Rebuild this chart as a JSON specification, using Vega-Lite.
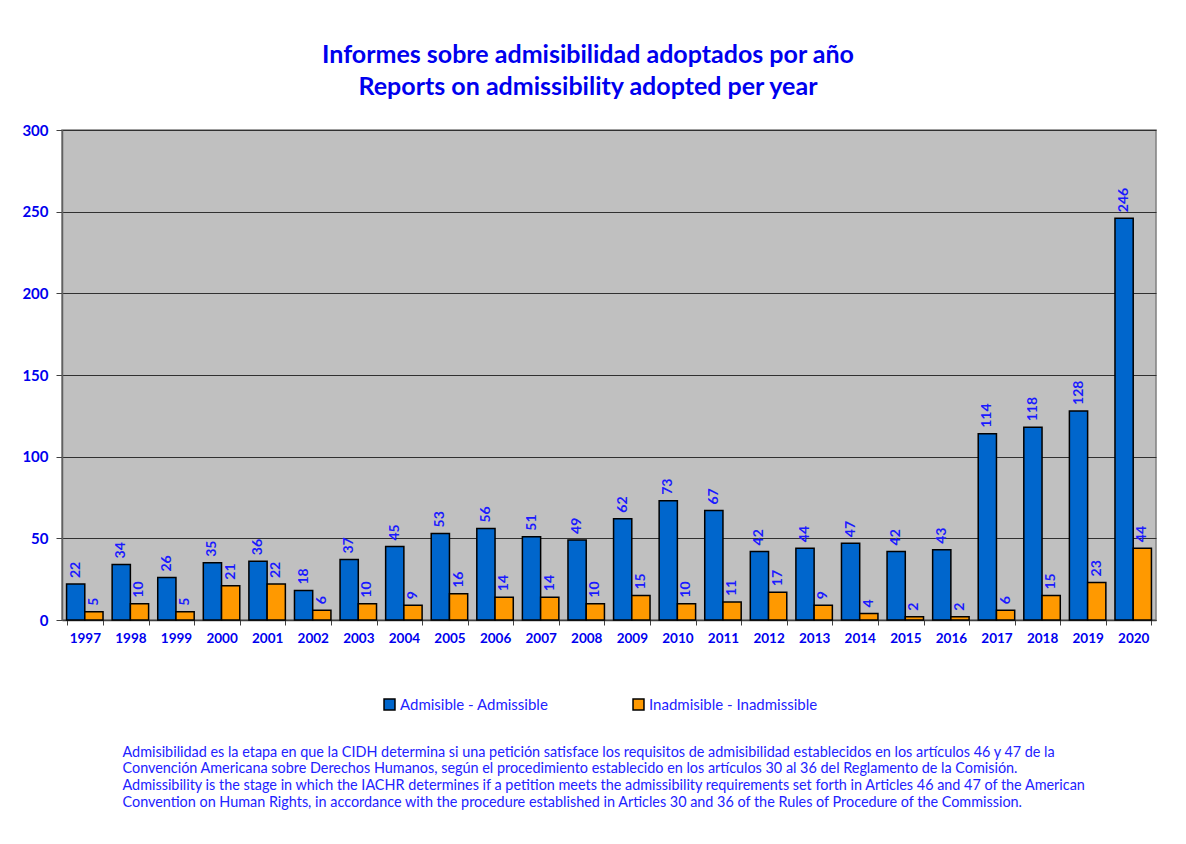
{
  "$schema": "https://vega.github.io/schema/vega-lite/v6.json",
  "width": 1094,
  "height": 490,
  "autosize": {"type": "none"},
  "padding": {"left": 62, "top": 130, "right": 30, "bottom": 224},
  "background": "white",
  "title": {
    "text": ["Informes sobre admisibilidad adoptados por año", "Reports on admissibility adopted per year"],
    "font": "Lato",
    "fontSize": 25,
    "fontWeight": "bold",
    "color": "#0000EE",
    "lineHeight": 32,
    "anchor": "middle",
    "frame": "group",
    "dx": -21,
    "offset": 23
  },
  "config": {
    "font": "Lato",
    "view": {"fill": "#C0C0C0", "stroke": "#808080", "strokeWidth": 1.5}
  },
  "data": {
    "values": [
      {"year": "1997", "series": "Admisible - Admissible", "value": 22},
      {"year": "1998", "series": "Admisible - Admissible", "value": 34},
      {"year": "1999", "series": "Admisible - Admissible", "value": 26},
      {"year": "2000", "series": "Admisible - Admissible", "value": 35},
      {"year": "2001", "series": "Admisible - Admissible", "value": 36},
      {"year": "2002", "series": "Admisible - Admissible", "value": 18},
      {"year": "2003", "series": "Admisible - Admissible", "value": 37},
      {"year": "2004", "series": "Admisible - Admissible", "value": 45},
      {"year": "2005", "series": "Admisible - Admissible", "value": 53},
      {"year": "2006", "series": "Admisible - Admissible", "value": 56},
      {"year": "2007", "series": "Admisible - Admissible", "value": 51},
      {"year": "2008", "series": "Admisible - Admissible", "value": 49},
      {"year": "2009", "series": "Admisible - Admissible", "value": 62},
      {"year": "2010", "series": "Admisible - Admissible", "value": 73},
      {"year": "2011", "series": "Admisible - Admissible", "value": 67},
      {"year": "2012", "series": "Admisible - Admissible", "value": 42},
      {"year": "2013", "series": "Admisible - Admissible", "value": 44},
      {"year": "2014", "series": "Admisible - Admissible", "value": 47},
      {"year": "2015", "series": "Admisible - Admissible", "value": 42},
      {"year": "2016", "series": "Admisible - Admissible", "value": 43},
      {"year": "2017", "series": "Admisible - Admissible", "value": 114},
      {"year": "2018", "series": "Admisible - Admissible", "value": 118},
      {"year": "2019", "series": "Admisible - Admissible", "value": 128},
      {"year": "2020", "series": "Admisible - Admissible", "value": 246},
      {"year": "1997", "series": "Inadmisible - Inadmissible", "value": 5},
      {"year": "1998", "series": "Inadmisible - Inadmissible", "value": 10},
      {"year": "1999", "series": "Inadmisible - Inadmissible", "value": 5},
      {"year": "2000", "series": "Inadmisible - Inadmissible", "value": 21},
      {"year": "2001", "series": "Inadmisible - Inadmissible", "value": 22},
      {"year": "2002", "series": "Inadmisible - Inadmissible", "value": 6},
      {"year": "2003", "series": "Inadmisible - Inadmissible", "value": 10},
      {"year": "2004", "series": "Inadmisible - Inadmissible", "value": 9},
      {"year": "2005", "series": "Inadmisible - Inadmissible", "value": 16},
      {"year": "2006", "series": "Inadmisible - Inadmissible", "value": 14},
      {"year": "2007", "series": "Inadmisible - Inadmissible", "value": 14},
      {"year": "2008", "series": "Inadmisible - Inadmissible", "value": 10},
      {"year": "2009", "series": "Inadmisible - Inadmissible", "value": 15},
      {"year": "2010", "series": "Inadmisible - Inadmissible", "value": 10},
      {"year": "2011", "series": "Inadmisible - Inadmissible", "value": 11},
      {"year": "2012", "series": "Inadmisible - Inadmissible", "value": 17},
      {"year": "2013", "series": "Inadmisible - Inadmissible", "value": 9},
      {"year": "2014", "series": "Inadmisible - Inadmissible", "value": 4},
      {"year": "2015", "series": "Inadmisible - Inadmissible", "value": 2},
      {"year": "2016", "series": "Inadmisible - Inadmissible", "value": 2},
      {"year": "2017", "series": "Inadmisible - Inadmissible", "value": 6},
      {"year": "2018", "series": "Inadmisible - Inadmissible", "value": 15},
      {"year": "2019", "series": "Inadmisible - Inadmissible", "value": 23},
      {"year": "2020", "series": "Inadmisible - Inadmissible", "value": 44}
    ]
  },
  "encoding": {
    "x": {
      "field": "year",
      "type": "nominal",
      "scale": {"paddingInner": 0.2, "paddingOuter": 0.1},
      "axis": {
        "labelAngle": 0,
        "labelFont": "Lato",
        "labelFontSize": 13.5,
        "labelFontWeight": "bold",
        "labelColor": "#0000EE",
        "labelPadding": 6,
        "tickBand": "extent",
        "tickSize": 5,
        "tickColor": "#404040",
        "domainColor": "#404040",
        "domainWidth": 1.5,
        "title": [
          "Admisibilidad es la etapa en que la CIDH determina si una petición satisface los requisitos de admisibilidad establecidos en los artículos 46 y 47 de la",
          "Convención Americana sobre Derechos Humanos, según el procedimiento establecido en los artículos 30 al 36 del Reglamento de la Comisión.",
          "Admissibility is the stage in which the IACHR determines if a petition meets the admissibility requirements set forth in Articles 46 and 47 of the American",
          "Convention on Human Rights, in accordance with the procedure established in Articles 30 and 36 of the Rules of Procedure of the Commission."
        ],
        "titleFont": "Lato",
        "titleFontSize": 14.4,
        "titleFontWeight": "normal",
        "titleColor": "#2222FF",
        "titleLineHeight": 16.8,
        "titleAlign": "left",
        "titleAnchor": "start",
        "titleBaseline": "top",
        "titleX": 60,
        "titleY": 125
      }
    },
    "xOffset": {"field": "series", "type": "nominal"},
    "y": {
      "field": "value",
      "type": "quantitative",
      "scale": {"domain": [0, 300]},
      "axis": {
        "values": [0, 50, 100, 150, 200, 250, 300],
        "title": null,
        "labelFont": "Lato",
        "labelFontSize": 15,
        "labelFontWeight": "bold",
        "labelColor": "#0000EE",
        "labelPadding": 8,
        "tickSize": 6,
        "tickColor": "#404040",
        "domainColor": "#606060",
        "domainWidth": 1.5,
        "gridColor": "#303030",
        "gridWidth": 1
      }
    }
  },
  "layer": [
    {
      "mark": {"type": "bar", "stroke": "black", "strokeWidth": 1.5},
      "encoding": {
        "color": {
          "field": "series",
          "type": "nominal",
          "scale": {"range": ["#0066CC", "#FF9900"]},
          "legend": {
            "title": null,
            "orient": "none",
            "legendX": 320,
            "legendY": 567,
            "direction": "horizontal",
            "symbolType": "square",
            "symbolSize": 120,
            "symbolStrokeColor": "black",
            "symbolStrokeWidth": 1.5,
            "labelFont": "Lato",
            "labelFontSize": 15,
            "labelColor": "#2222FF",
            "labelOffset": 3,
            "labelLimit": 400,
            "columnPadding": 81
          }
        }
      }
    },
    {
      "mark": {
        "type": "text",
        "angle": 270,
        "align": "left",
        "baseline": "middle",
        "dx": 6,
        "font": "Lato",
        "fontSize": 14,
        "fontWeight": "bold",
        "color": "#1a1aff"
      },
      "encoding": {
        "text": {"field": "value", "type": "quantitative"}
      }
    }
  ]
}
